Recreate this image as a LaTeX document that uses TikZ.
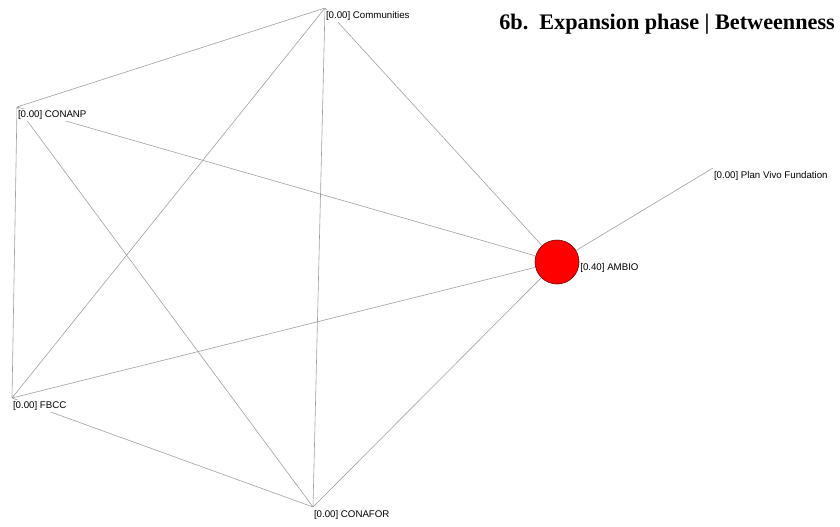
\documentclass[tikz,border=0pt]{standalone}
\usepackage{fontspec}
\setmainfont{Liberation Serif}
\newfontfamily\netfont{Liberation Sans}
\usepackage{xcolor}
\usepackage{tikz}
\definecolor{tiegray}{RGB}{160,160,160}
\definecolor{ambiored}{RGB}{255,0,0}
\def\nodefs{\fontsize{9.7}{10}\netfont}

\begin{document}
\begin{tikzpicture}[x=1pt, y=-1pt,
		actor/.style={inner sep=0pt, minimum size=0pt},
		actorlbl/.style={anchor=north west, fill=white, inner xsep=0.8pt, inner ysep=1.5pt,
			yshift=-2pt, font=\nodefs},
		tie/.style={draw=tiegray, line width=0.6pt}]
	\useasboundingbox (0,0) rectangle (840,527);
	% actors
	\node[actor] (com) at (325,8) {};
	\node[actor] (conanp) at (17,107) {};
	\node[actor] (fbcc) at (12,398) {};
	\node[actor] (conafor) at (313,507) {};
	\node[actor] (plan) at (713,168) {};
	\node[circle, fill=ambiored, draw=red!45!black, line width=0.6pt,
		minimum size=44pt, inner sep=0pt] (ambio) at (557,262) {};
	% ties
	\draw[tie] (com) -- (conanp);
	\draw[tie] (com) -- (fbcc);
	\draw[tie] (com) -- (conafor);
	\draw[tie] (com) -- (ambio);
	\draw[tie] (conanp) -- (fbcc);
	\draw[tie] (conanp) -- (conafor);
	\draw[tie] (conanp) -- (ambio);
	\draw[tie] (fbcc) -- (conafor);
	\draw[tie] (fbcc) -- (ambio);
	\draw[tie] (conafor) -- (ambio);
	\draw[tie] (ambio) -- (plan);
	% labels
	\node[actorlbl] (comlbl) at (com) {[0.00] Communities};
	\node[actorlbl] (conanplbl) at (conanp) {[0.00] CONANP};
	\node[actorlbl] (fbcclbl) at (fbcc) {[0.00] FBCC};
	\node[actorlbl] (conaforlbl) at (conafor) {[0.00] CONAFOR};
	\node[actorlbl] (planlbl) at (plan) {[0.00] Plan Vivo Fundation};
	\node[actorlbl, anchor=west, yshift=2pt] (ambiolbl) at ([yshift=-6pt]ambio.east) {[0.40] AMBIO};
	% title
	\node[anchor=base east, inner sep=0pt, font=\fontsize{22.2}{24}\selectfont\bfseries]
		(title) at (835,30) {6b.\ \ Expansion phase | Betweenness};
\end{tikzpicture}
\end{document}
